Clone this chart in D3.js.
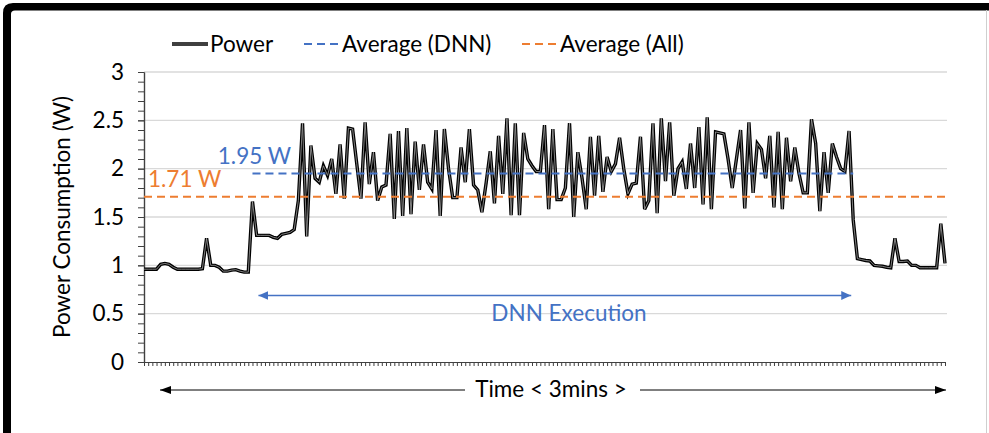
<!DOCTYPE html>
<html>
<head>
<meta charset="utf-8">
<script src="https://cdn.jsdelivr.net/npm/d3@7"></script>
<style>
  html, body { margin: 0; padding: 0; background: #fff; }
  svg { display: block; }
  text { font-family: Lato, "Open Sans", sans-serif; fill: #000; }
</style>
</head>
<body>
<svg id="chart" width="989" height="433"></svg>
<script>
'use strict';

// Power trace, one sample per category tick
var power = [
  0.96, 0.96, 0.96, 0.96, 1.01, 1.02, 1.01, 0.98, 0.96, 0.96,
  0.96, 0.96, 0.96, 0.96, 0.965, 1.28, 1.00, 1.00, 0.98, 0.94,
  0.94, 0.95, 0.955, 0.94, 0.93, 0.93, 1.66, 1.31, 1.31, 1.31,
  1.31, 1.29, 1.28, 1.32, 1.33, 1.34, 1.37, 1.67, 2.47, 1.30,
  2.24, 1.90, 1.86, 2.03, 1.93, 2.10, 1.74, 2.25, 1.69, 2.42,
  2.41, 2.05, 1.69, 2.48, 1.84, 2.17, 1.67, 1.81, 1.83, 2.36,
  1.48, 2.39, 1.51, 2.42, 1.53, 2.28, 1.78, 2.25, 1.86, 1.79,
  2.40, 1.51, 2.41, 2.00, 1.70, 1.70, 2.22, 1.86, 2.41, 1.83,
  1.78, 1.55, 1.85, 2.18, 1.64, 2.34, 1.74, 2.52, 1.52, 2.47,
  1.52, 2.37, 2.10, 2.03, 1.97, 1.97, 2.45, 1.58, 2.41, 1.68,
  1.68, 1.80, 2.47, 1.50, 2.17, 1.90, 1.58, 2.33, 1.72, 2.34,
  1.76, 2.12, 1.97, 2.05, 2.32, 2.00, 1.74, 1.84, 1.85, 2.33,
  1.58, 1.67, 2.47, 1.54, 2.52, 1.87, 2.48, 1.72, 2.00, 2.07,
  1.79, 2.26, 1.80, 2.43, 1.63, 2.53, 1.58, 2.38, 2.37, 2.36,
  2.10, 1.80, 2.10, 2.40, 1.59, 2.48, 1.75, 2.26, 2.20, 1.90,
  2.34, 1.60, 2.38, 1.58, 2.32, 1.87, 2.22, 1.95, 1.75, 1.75,
  2.51, 2.26, 1.56, 2.17, 1.75, 2.26, 2.12, 2.00, 1.97, 2.39,
  1.47, 1.07, 1.06, 1.05, 1.045, 1.00, 0.995, 0.99, 0.98, 0.975,
  1.28, 1.04, 1.04, 1.045, 1.00, 1.00, 0.975, 0.975, 0.975, 0.975,
  0.975, 1.43, 1.02
];

var avgDnn = 1.95;
var avgAll = 1.71;
var dnnStart = 26;   // first sample of the DNN run
var dnnEnd = 170;    // last sample of the DNN run
var yTicks = [0, 0.5, 1, 1.5, 2, 2.5, 3];
var seriesNames = ['Power', 'Average (DNN)', 'Average (All)'];
var spanLabel = 'DNN Execution';
var timeLabel = 'Time < 3mins >';
var yTitle = 'Power Consumption (W)';

// ─── layout ─────────────────────────────────────────────────────────────────
var plot = { left: 144, right: 945, top: 72, bottom: 362 };
var BLUE = '#4472C4';
var ORANGE = '#ED7D31';
var AXIS = '#404040';
var FONT = 22.5;

var svg = d3.select('#chart');
var x = d3.scaleLinear().domain([0, power.length - 1]).range([plot.left, plot.right]);
var y = d3.scaleLinear().domain([0, 3]).range([plot.bottom, plot.top]);

// arrow heads
var defs = svg.append('defs');
function addArrow(id, color, len, half) {
  defs.append('marker')
    .attr('id', id)
    .attr('viewBox', '0 0 ' + len + ' ' + (half * 2))
    .attr('refX', len).attr('refY', half)
    .attr('markerWidth', len).attr('markerHeight', half * 2)
    .attr('markerUnits', 'userSpaceOnUse')
    .attr('orient', 'auto-start-reverse')
    .append('path')
    .attr('d', 'M0,0 L' + len + ',' + half + ' L0,' + (half * 2) + ' Z')
    .attr('fill', color);
}
addArrow('arrBlue', BLUE, 10, 4.5);
addArrow('arrBlack', '#000', 11, 4);

// ─── screenshot frame ───────────────────────────────────────────────────────
svg.append('path')
  .attr('d', 'M3,433 V13 Q3,3 13,3 H989 V10.5 H15 Q11,10.5 11,14 V433 Z')
  .attr('fill', '#000');
svg.append('line')
  .attr('x1', 986.5).attr('x2', 986.5).attr('y1', 10).attr('y2', 433)
  .attr('stroke', '#cfcfcf').attr('stroke-width', 1);

// ─── gridlines ──────────────────────────────────────────────────────────────
svg.append('g')
  .selectAll('line')
  .data(yTicks.filter(function (v) { return v > 0; }))
  .join('line')
  .attr('x1', plot.left).attr('x2', plot.right + 2)
  .attr('y1', function (d) { return y(d); })
  .attr('y2', function (d) { return y(d); })
  .attr('stroke', '#d9d9d9')
  .attr('stroke-width', 1.3);

// ─── axes ───────────────────────────────────────────────────────────────────
var minorTicks = d3.range(0, 31).map(function (i) { return i / 10; });
svg.append('g')
  .attr('transform', 'translate(' + plot.left + ',0)')
  .call(d3.axisLeft(y).tickValues(minorTicks).tickSize(6).tickSizeOuter(0).tickFormat(''));

var yAxis = svg.append('g')
  .attr('transform', 'translate(' + plot.left + ',0)')
  .call(d3.axisLeft(y).tickValues(yTicks).tickSize(6).tickSizeOuter(0).tickPadding(14)
    .tickFormat(function (d) { return String(d); }));
yAxis.selectAll('text').style('font-size', FONT + 'px').attr('fill', '#000');

svg.append('g')
  .attr('transform', 'translate(0,' + plot.bottom + ')')
  .call(d3.axisBottom(x).tickValues(d3.range(power.length)).tickSize(4).tickSizeOuter(0).tickFormat(''));

svg.selectAll('.domain, .tick line').attr('stroke', AXIS);
svg.selectAll('.domain').attr('stroke-width', 1.2);

svg.append('text')
  .attr('transform', 'translate(62,' + ((plot.top + plot.bottom) / 2) + ') rotate(-90)')
  .attr('text-anchor', 'middle')
  .attr('dy', '0.35em')
  .style('font-size', FONT + 'px')
  .text(yTitle);

// ─── power trace (double compound line) ─────────────────────────────────────
var line = d3.line()
  .x(function (d, i) { return x(i); })
  .y(function (d) { return y(d); });

svg.append('path').datum(power)
  .attr('d', line).attr('fill', 'none')
  .attr('stroke', '#000').attr('stroke-width', 3.4).attr('stroke-linejoin', 'miter');
svg.append('path').datum(power)
  .attr('d', line).attr('fill', 'none')
  .attr('stroke', '#a0a0a0').attr('stroke-width', 0.8);

// ─── averages ───────────────────────────────────────────────────────────────
svg.append('line')
  .attr('x1', x(dnnStart)).attr('x2', x(dnnEnd))
  .attr('y1', y(avgDnn)).attr('y2', y(avgDnn))
  .attr('stroke', BLUE).attr('stroke-width', 2).attr('stroke-dasharray', '8,5');
svg.append('line')
  .attr('x1', x(0)).attr('x2', x(power.length - 1))
  .attr('y1', y(avgAll)).attr('y2', y(avgAll))
  .attr('stroke', ORANGE).attr('stroke-width', 2).attr('stroke-dasharray', '8,5');

svg.append('text')
  .attr('x', 291).attr('y', y(avgDnn) - 9.5)
  .attr('text-anchor', 'end')
  .style('fill', BLUE)
  .style('font-size', FONT + 'px')
  .text(avgDnn.toFixed(2) + ' W');
svg.append('text')
  .attr('x', 148).attr('y', y(avgAll) - 9.5)
  .style('fill', ORANGE)
  .style('font-size', FONT + 'px')
  .text(avgAll.toFixed(2) + ' W');

// ─── DNN execution span ─────────────────────────────────────────────────────
svg.append('line')
  .attr('x1', x(dnnStart) + 6).attr('x2', x(dnnEnd) - 2)
  .attr('y1', 295.5).attr('y2', 295.5)
  .attr('stroke', BLUE).attr('stroke-width', 1.5)
  .attr('marker-start', 'url(#arrBlue)').attr('marker-end', 'url(#arrBlue)');
svg.append('text')
  .attr('x', 569).attr('y', 321)
  .attr('text-anchor', 'middle')
  .style('fill', BLUE)
  .style('font-size', FONT + 'px')
  .text(spanLabel);

// ─── time arrow under the axis ──────────────────────────────────────────────
svg.append('line')
  .attr('x1', 465).attr('x2', 160).attr('y1', 390).attr('y2', 390)
  .attr('stroke', '#000').attr('stroke-width', 1)
  .attr('marker-end', 'url(#arrBlack)');
svg.append('line')
  .attr('x1', 640).attr('x2', 946).attr('y1', 390).attr('y2', 390)
  .attr('stroke', '#000').attr('stroke-width', 1)
  .attr('marker-end', 'url(#arrBlack)');
svg.append('text')
  .attr('x', 551).attr('y', 397)
  .attr('text-anchor', 'middle')
  .style('font-size', FONT + 'px')
  .text(timeLabel);

// ─── legend ─────────────────────────────────────────────────────────────────
var legendY = 44;
var legendPos = [172, 304, 522];
var legend = svg.append('g');
seriesNames.forEach(function (name, i) {
  var lx = legendPos[i];
  if (i === 0) {
    legend.append('line').attr('x1', lx).attr('x2', lx + 36).attr('y1', legendY).attr('y2', legendY)
      .attr('stroke', '#000').attr('stroke-width', 3.4);
    legend.append('line').attr('x1', lx).attr('x2', lx + 36).attr('y1', legendY).attr('y2', legendY)
      .attr('stroke', '#a0a0a0').attr('stroke-width', 0.8);
  } else {
    legend.append('line').attr('x1', lx).attr('x2', lx + 36).attr('y1', legendY).attr('y2', legendY)
      .attr('stroke', i === 1 ? BLUE : ORANGE).attr('stroke-width', 2)
      .attr('stroke-dasharray', '8,5');
  }
  legend.append('text')
    .attr('x', lx + 38).attr('y', legendY)
    .attr('dy', '0.35em')
    .style('font-size', FONT + 'px')
    .text(name);
});
</script>
</body>
</html>
